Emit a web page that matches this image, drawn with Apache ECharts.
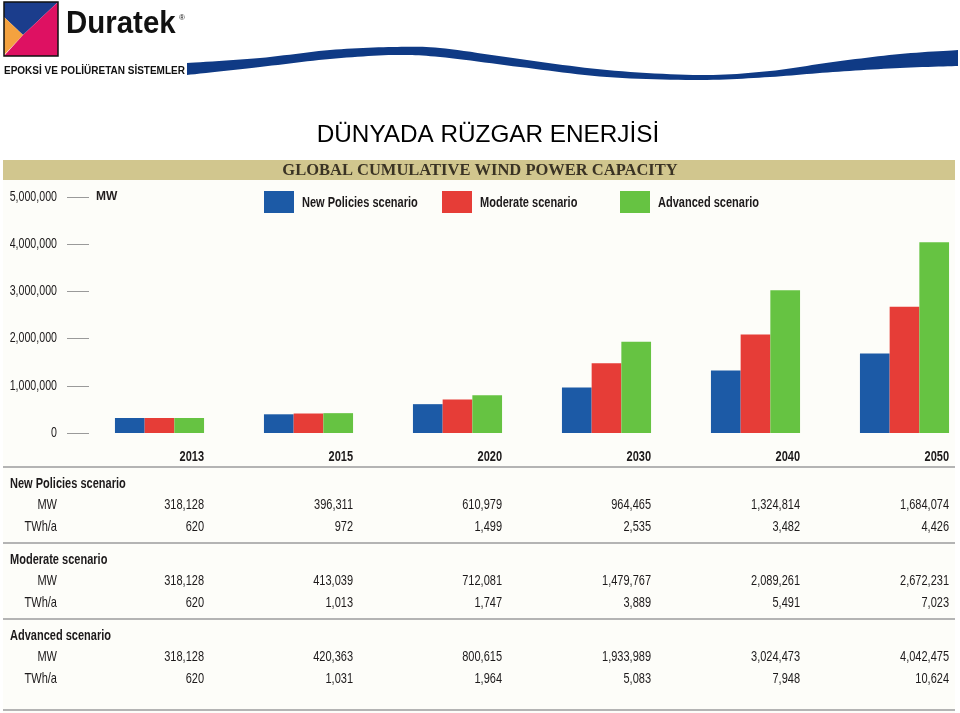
<!DOCTYPE html>
<html>
<head>
<meta charset="utf-8">
<script src="https://cdn.jsdelivr.net/npm/echarts@6/dist/echarts.min.js"></script>
<style>
  html, body { margin: 0; padding: 0; background: #fff; }
  #chart { width: 960px; height: 713px; }
</style>
</head>
<body>
<div id="chart"></div>
<script>
// categories and values
const years = ['2013', '2015', '2020', '2030', '2040', '2050'];
const yTicks = [0, 1000000, 2000000, 3000000, 4000000, 5000000];

const newPoliciesMW = [318128, 396311, 610979, 964465, 1324814, 1684074];
const newPoliciesTWh = [620, 972, 1499, 2535, 3482, 4426];
const moderateMW = [318128, 413039, 712081, 1479767, 2089261, 2672231];
const moderateTWh = [620, 1013, 1747, 3889, 5491, 7023];
const advancedMW = [318128, 420363, 800615, 1933989, 3024473, 4042475];
const advancedTWh = [620, 1031, 1964, 5083, 7948, 10624];

const seriesNames = ['New Policies scenario', 'Moderate scenario', 'Advanced scenario'];
const colors = ['#1c5aa6', '#e63d37', '#66c342'];

const sans = '"Liberation Sans", Arial, sans-serif';
const squeeze = 0.76; // the slide uses a condensed face, so text gets narrowed
const barW = 29.7;
const legendLeft = [264, 442, 620];

const fmt = v => v.toLocaleString('en-US');

const chart = echarts.init(document.getElementById('chart'));

chart.setOption({
  animation: false,
  color: colors,
  grid: { left: 85, top: 197, width: 894, height: 236, outerBoundsMode: 'none' },
  legend: seriesNames.map((n, i) => ({
    left: legendLeft[i],
    top: 191,
    padding: 0,
    itemWidth: 30,
    itemHeight: 22,
    icon: 'rect',
    data: [n],
    formatter: () => ''
  })),
  xAxis: {
    type: 'category',
    data: years,
    axisLine: { show: false },
    axisTick: { show: false },
    axisLabel: { show: false }
  },
  yAxis: {
    type: 'value',
    min: 0,
    max: 5000000,
    interval: 1000000,
    offset: -4,
    name: 'MW',
    nameLocation: 'end',
    nameGap: 0,
    nameTextStyle: { fontFamily: sans, fontWeight: 'bold', fontSize: 12, color: '#231f20', align: 'left', verticalAlign: 'middle', padding: [0, 0, 0, 7] },
    splitLine: { show: false },
    axisLine: { show: false },
    axisTick: { show: true, length: 22, lineStyle: { color: '#9a9a9a' } },
    axisLabel: { show: false }
  },
  series: seriesNames.map((n, i) => ({
    name: n,
    type: 'bar',
    data: [newPoliciesMW, moderateMW, advancedMW][i],
    barWidth: barW,
    barGap: '0%'
  }))
});

// narrow text helper
const txt = (text, x, y, opts) => ({
  type: 'text', x, y, scaleX: squeeze,
  style: {
    text,
    font: (opts.bold ? 'bold ' : '') + (opts.size || 14.5) + 'px ' + sans,
    fill: '#1d1a1b',
    align: opts.align || 'right',
    verticalAlign: 'middle'
  }
});

// smooth a row of points (Catmull-Rom) for the wave band edges
function spline(pts, steps) {
  const out = [];
  for (let i = 0; i < pts.length - 1; i++) {
    const p0 = pts[Math.max(i - 1, 0)], p1 = pts[i], p2 = pts[i + 1], p3 = pts[Math.min(i + 2, pts.length - 1)];
    for (let s = 0; s < steps; s++) {
      const t = s / steps, t2 = t * t, t3 = t2 * t;
      const f = k => 0.5 * ((2 * p1[k]) + (-p0[k] + p2[k]) * t + (2 * p0[k] - 5 * p1[k] + 4 * p2[k] - p3[k]) * t2 + (-p0[k] + 3 * p1[k] - 3 * p2[k] + p3[k]) * t3);
      out.push([f(0), f(1)]);
    }
  }
  out.push(pts[pts.length - 1]);
  return out;
}

const waveTop = [[187, 63], [260, 58], [330, 50], [393, 47], [440, 48], [520, 59], [607, 70], [700, 75], [770, 71], [833, 62], [900, 54], [958, 50]];
const waveBottom = [[187, 75], [260, 67], [330, 59], [393, 55], [440, 57], [520, 67], [607, 77], [700, 80], [770, 77], [833, 72], [900, 68], [958, 66]];

const els = [];

// chart panel background and tan title band
els.push({ type: 'rect', z: -10, shape: { x: 3, y: 180, width: 952, height: 533 }, style: { fill: '#fdfdf9' } });
els.push({ type: 'rect', z: -10, shape: { x: 3, y: 160, width: 952, height: 20 }, style: { fill: '#d1c68e' } });
els.push({ type: 'text', x: 480, y: 171, style: { text: 'GLOBAL CUMULATIVE WIND POWER CAPACITY', font: 'bold 16.5px "Liberation Serif", serif', fill: '#3a3324', align: 'center', verticalAlign: 'middle' } });

// slide title
els.push({ type: 'text', x: 488, y: 135, style: { text: 'DÜNYADA RÜZGAR ENERJİSİ', font: '24.3px ' + sans, fill: '#000', align: 'center', verticalAlign: 'middle' } });

// logo
els.push({ type: 'polygon', shape: { points: [[4, 2], [58, 2], [23, 35], [4, 17]] }, style: { fill: '#1b3d8c' } });
els.push({ type: 'polygon', shape: { points: [[4, 17], [23, 35], [4, 55]] }, style: { fill: '#f4a23f' } });
els.push({ type: 'polygon', shape: { points: [[58, 2], [58, 56], [4, 56], [23, 35]] }, style: { fill: '#de1162' } });
els.push({ type: 'rect', shape: { x: 4, y: 2, width: 54, height: 54 }, style: { fill: null, stroke: '#111', lineWidth: 1.5 } });
els.push({ type: 'text', x: 66, y: 40, scaleX: 0.92, style: { text: 'Duratek', font: 'bold 32px ' + sans, fill: '#111', verticalAlign: 'bottom' } });
els.push({ type: 'text', x: 179, y: 18, style: { text: '®', font: '8px ' + sans, fill: '#111', verticalAlign: 'middle' } });
els.push({ type: 'text', x: 4, y: 71, style: { text: 'EPOKSİ VE POLİÜRETAN SİSTEMLER', font: 'bold 10px ' + sans, fill: '#111', verticalAlign: 'middle' } });

// blue wave band
els.push({
  type: 'polygon',
  shape: { points: spline(waveTop, 12).concat(spline(waveBottom, 12).reverse()) },
  style: { fill: '#0f3a85' }
});

// legend labels next to the legend swatches
seriesNames.forEach((n, i) => els.push(txt(n, legendLeft[i] + 38, 203, { bold: true, align: 'left' })));

// y axis tick labels at the axis' own positions
yTicks.forEach(v => {
  els.push(txt(fmt(v), 57, chart.convertToPixel({ yAxisIndex: 0 }, v), { size: 14 }));
});

// table rules
[467, 543, 619, 710].forEach(y => {
  els.push({ type: 'line', shape: { x1: 3, y1: y, x2: 955, y2: y }, style: { stroke: '#b4b4b4', lineWidth: 2 } });
});

const sections = [
  { title: 'New Policies scenario', y: 484, mw: newPoliciesMW, twh: newPoliciesTWh },
  { title: 'Moderate scenario', y: 560, mw: moderateMW, twh: moderateTWh },
  { title: 'Advanced scenario', y: 636, mw: advancedMW, twh: advancedTWh }
];

years.forEach((yr, i) => {
  const right = chart.convertToPixel({ xAxisIndex: 0 }, yr) + 1.5 * barW;
  els.push(txt(yr, right, 457, { bold: true }));
  sections.forEach(s => {
    els.push(txt(fmt(s.mw[i]), right, s.y + 21, {}));
    els.push(txt(fmt(s.twh[i]), right, s.y + 43, {}));
  });
});

sections.forEach(s => {
  els.push(txt(s.title, 10, s.y, { bold: true, align: 'left' }));
  els.push(txt('MW', 57, s.y + 21, {}));
  els.push(txt('TWh/a', 57, s.y + 43, {}));
});

chart.setOption({ graphic: els });
</script>
</body>
</html>
